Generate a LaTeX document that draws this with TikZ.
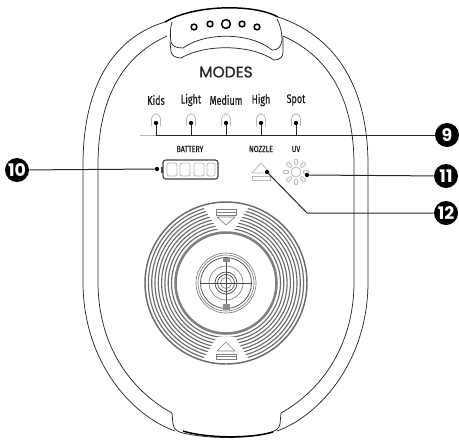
\documentclass[tikz,border=0pt]{standalone}
\usepackage{fontspec}
\setmainfont[FakeBold=0.4]{Fira Sans}
\newfontfamily\popp{Poppins}
\newfontfamily\poppmid[FakeBold=0.9]{Poppins}
\usetikzlibrary{calc}
\definecolor{ringgray}{gray}{0.42}
\definecolor{bandgray}{gray}{0.5}
\definecolor{softgray}{gray}{0.72}
\tikzset{
  body/.style={draw=black!85,line width=0.55pt},
  thickedge/.style={draw=black,line width=1.1pt},
  hole/.style={draw=black,line width=1.15pt,fill=white},
  groove/.style={draw=ringgray,line width=0.85pt},
  band/.style={draw=bandgray,line width=1.9pt},
  darkline/.style={draw=black!70,line width=0.55pt},
  midline/.style={draw=black!50,line width=0.5pt},
  softline/.style={draw=softgray,line width=0.6pt},
  leader/.style={draw=black!85,line width=0.75pt},
  dotnode/.style={circle,fill=black,inner sep=0pt,minimum size=3.2pt},
  badge/.style={circle,fill=black,text=white,inner sep=0pt,minimum size=18pt,font=\popp\bfseries\fontsize{13}{13}\selectfont},
  modelabel/.style={inner sep=0pt,text=black!90,font=\fontsize{9.4}{10}\selectfont},
  smalllabel/.style={inner sep=0pt,text=black!90,font=\fontsize{6.6}{7}\selectfont},
  titlelabel/.style={inner sep=0pt,text=black!85,font=\poppmid\fontsize{11.6}{12}\selectfont},
}
\begin{document}
\begin{tikzpicture}[x=0.75pt,y=-0.75pt]
\useasboundingbox (0,0) rectangle (459,440);
% outer shell
\draw[body] (165,22) .. controls (118,36) and (83,80) .. (83,165) -- (83,282)
  .. controls (83,360) and (130,415) .. (175,431);
\draw[body] (278,17) .. controls (330,34) and (368,80) .. (368,165) -- (368,282)
  .. controls (368,360) and (321,415) .. (277,431);
% inner shell
\draw[body] (167,36) .. controls (125,55) and (98,95) .. (98,165) -- (98,282)
  .. controls (98,345) and (130,390) .. (172,413);
\draw[body] (283,36) .. controls (326,55) and (354,95) .. (354,165) -- (354,282)
  .. controls (354,345) and (322,390) .. (281,413);
% bottom grip
\draw[body] (172,413) -- (173,424) .. controls (174,430) and (178,432) .. (183,433)
  .. controls (210,439) and (245,439) .. (268,433) .. controls (276,431) and (279,429) .. (280,424) -- (281,413);
\draw[thickedge] (183,431) .. controls (205,438) and (250,439) .. (273,432);
% top handle
\draw[thickedge] (165,22) .. controls (195,4) and (255,4) .. (278,17);
\draw[body] (172,22) .. controls (170,28) and (170,36) .. (171,42) .. controls (172,46) and (176,48) .. (183,48)
  .. controls (205,32) and (250,32) .. (272,50) .. controls (279,50) and (281,46) .. (282,40) .. controls (282,32) and (280,24) .. (277,19);
\draw[body] (170,42) -- (171,52) .. controls (172,56) and (176,58) .. (181,58)
  .. controls (205,44) and (250,44) .. (274,60) .. controls (280,60) and (283,57) .. (283,52) -- (283,36);
\node[circle,hole,inner sep=0pt,minimum size=4.3pt] (h1) at (194,27) {};
\node[circle,hole,inner sep=0pt,minimum size=4.3pt] (h2) at (210,24) {};
\node[circle,hole,inner sep=0pt,minimum size=6.6pt] (h3) at (226,24) {};
\node[circle,hole,inner sep=0pt,minimum size=4.3pt] (h4) at (242,24) {};
\node[circle,hole,inner sep=0pt,minimum size=4.3pt] (h5) at (257,27) {};
% texts
\node[titlelabel] (modes) at (226,72) {MODES};
\foreach \n/\t/\x in {kids/Kids/156,light/Light/191,medium/Medium/226,high/High/261,spot/Spot/296}{
  \node[modelabel] (\n) at (\x,100) {\scalebox{0.72}[1]{\t}};
  \draw[softline,rounded corners=3.5pt] (\x-4.5,126) -- (\x-4.5,114) -- (\x+4.5,114) -- (\x+4.5,126);
  \node[dotnode] (d\n) at (\x,123) {};
  \coordinate (b\n) at (\x,135);
}
\node[smalllabel] (battery) at (190,149) {\scalebox{0.8}[1]{BATTERY}};
\node[smalllabel] (nozzle) at (261,149) {\scalebox{0.8}[1]{NOZZLE}};
\node[smalllabel] (uv) at (296,149) {\scalebox{0.8}[1]{UV}};
% badges
\node[badge] (n9) at (447,135) {9};
\node[badge] (n10) at (17,170) {10};
\node[badge] (n11) at (446,176) {11};
\node[badge] (n12) at (446,213) {12};
% bus
\coordinate (busstart) at (140,135);
\draw[softline] (busstart) -- (bkids);
\draw[leader] (bkids) -- (n9);
\foreach \n in {kids,light,medium,high,spot} \draw[leader] (d\n) -- (b\n);
% battery
\draw[black!75,line width=0.8pt,rounded corners=2pt] (163,160) rectangle (218,179);
\fill[black!75] (161,167) rectangle (163,173);
\foreach \a/\b in {167/177,180/190,194/204,207/215}
  \draw[softline,rounded corners=1.5pt] (\a,163) rectangle (\b,176);
\node[dotnode] (dbat) at (157,169) {};
\draw[leader] (n10) -- (dbat);
% eject
\draw[softline,line join=round] (261,163) -- (270,173) -- (252,173) -- cycle;
\draw[softline] (252,176) rectangle (270,180);
\node[dotnode] (dnoz) at (267,172) {};
\coordinate (bend12) at (307,213);
\draw[leader] (dnoz) -- (bend12) -- (n12);
% sun
\draw[softline] (296,172) circle (5);
\foreach \a in {0,45,...,315}
  \draw[softline,rotate around={\a:(296,172)}] (306,172) ellipse (3 and 1.7);
\node[dotnode] (dsun) at (307,175) {};
\draw[leader] (dsun) -- (n11);
% dial
\coordinate (c) at (226,283);
\foreach \r in {54.5,57.8,61.1,64.4,67.7,71,74.3,77.6}
  \draw[groove] (c) circle (\r);
\fill[white] (199,200) -- (218,230) -- (234,230) -- (253,200) -- cycle;
\fill[white] (199,366) -- (217,337) -- (235,337) -- (253,366) -- cycle;
\draw[groove,line width=1.1pt] (c) circle (81);
\draw[band] (c) circle (50.5);
% dial arrows
\draw[midline,line join=round] (217,217) -- (235,217) -- (226,225) -- cycle;
\draw[midline] (216,209) rectangle (236.5,215);
\draw[midline] (216,212) -- (236.5,212);
\draw[midline,line join=round] (217,351) -- (235,351) -- (226,342) -- cycle;
\draw[midline] (216,354) rectangle (236.5,359);
\draw[midline] (216,356.5) -- (236.5,356.5);
% dial centre
\draw[midline] (c) circle (30);
\draw[midline] (c) circle (28);
\draw[darkline] (c) circle (25.5);
\draw[midline] (c) circle (17);
\draw[darkline] (c) circle (11);
\draw[darkline] (c) circle (8.5);
\draw[midline] (c) circle (5.5);
\draw[darkline] (200,283) -- (252,283);
\draw[darkline] (226,257) -- (226,309);
\fill[black!45] (222.5,257.5) rectangle (230,262);
\fill[black!45] (222.5,304) rectangle (230,309.5);
\end{tikzpicture}
\end{document}
